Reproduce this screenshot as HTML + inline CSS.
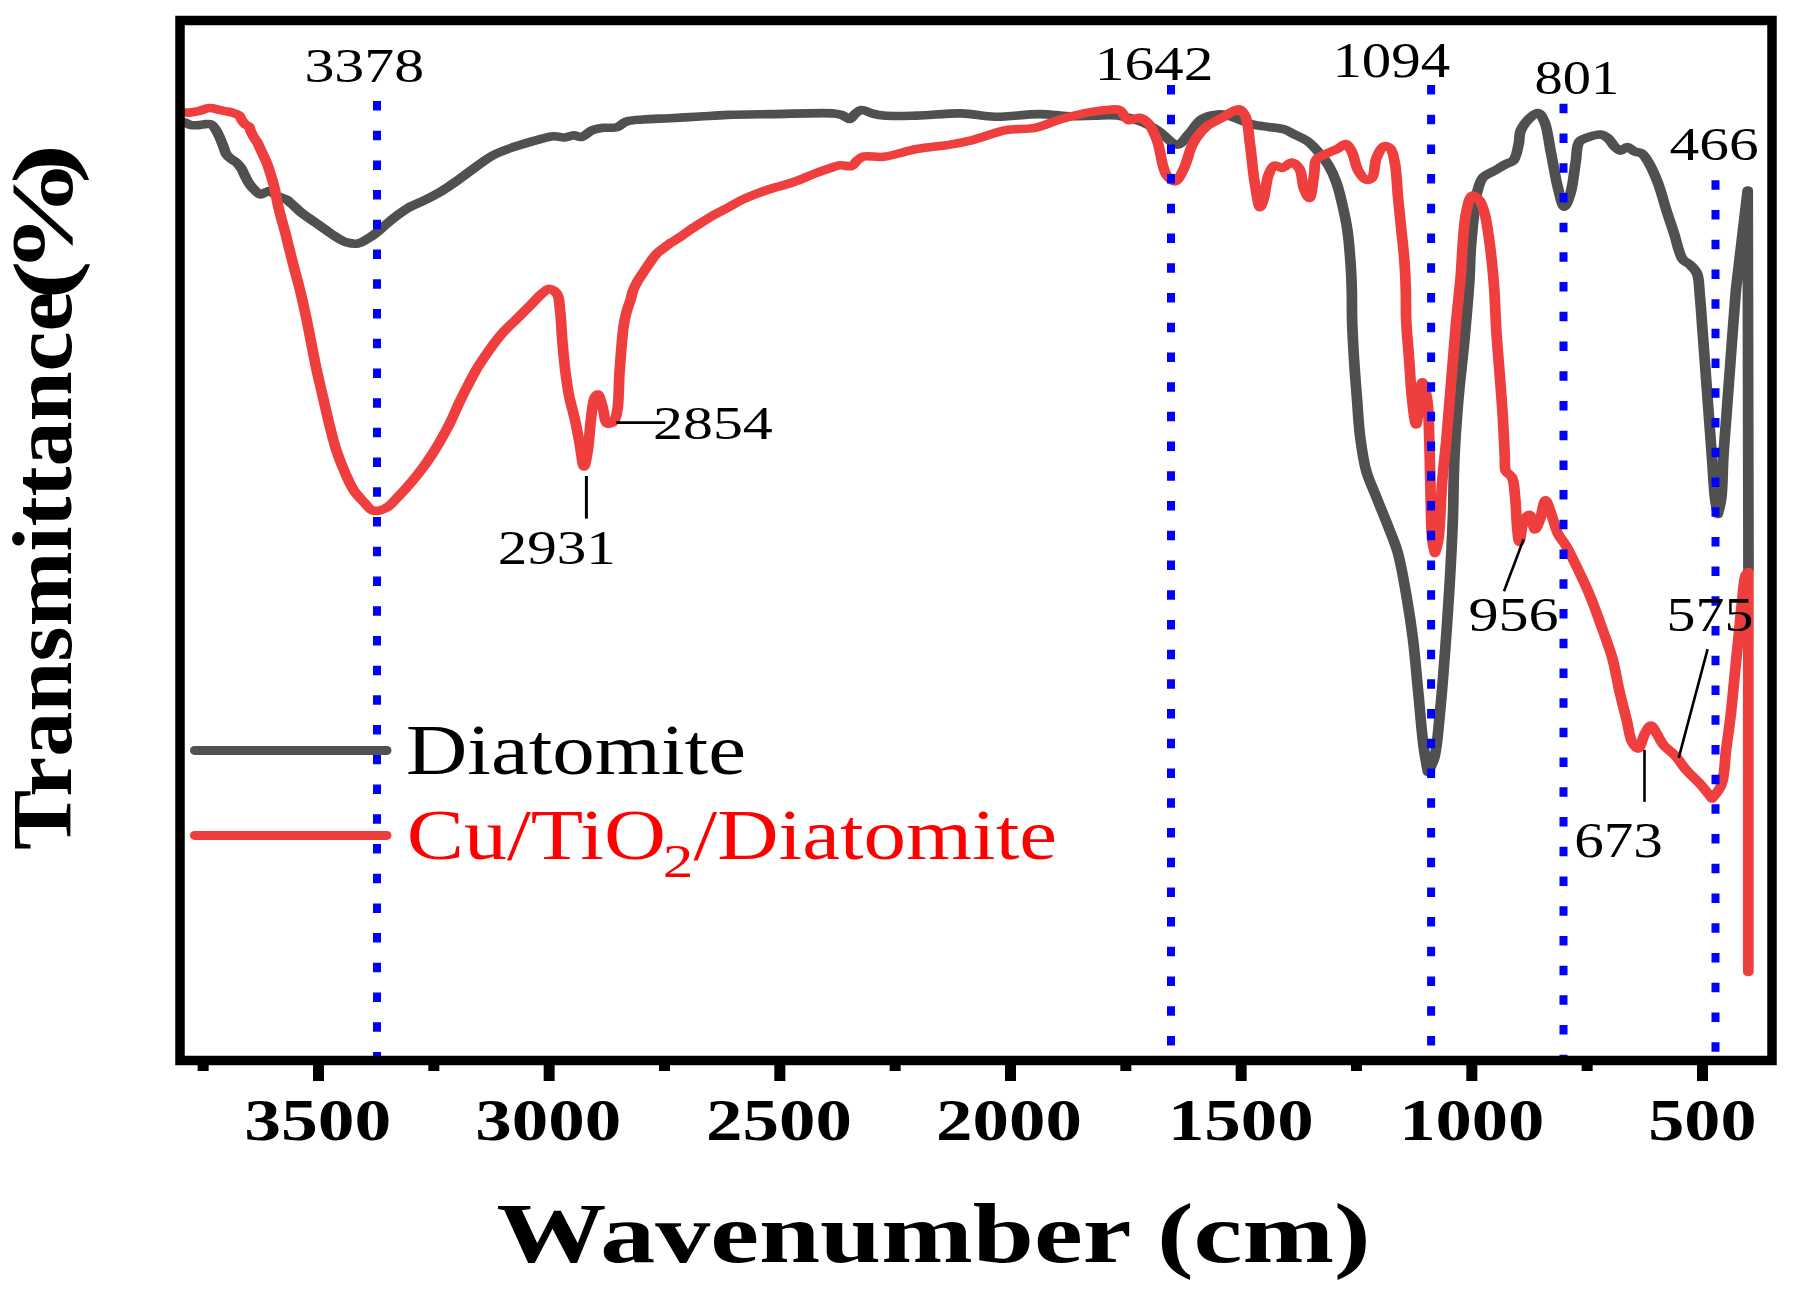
<!DOCTYPE html>
<html><head><meta charset="utf-8"><title>FTIR spectra</title>
<style>html,body{margin:0;padding:0;background:#fff;overflow:hidden}svg{display:block}</style>
</head><body>
<svg width="1796" height="1297" viewBox="0 0 1796 1297"><rect x="0" y="0" width="1796" height="1297" fill="#fff"/>
<g transform="scale(1.25,1)" fill="none" stroke-width="8.6" stroke-linejoin="round" stroke-linecap="round">
<path d="M147.68,122.30 C149.41,123.23 151.03,124.63 152.88,125.10 C154.73,125.57 156.83,125.26 158.80,125.10 C160.78,124.93 162.88,124.15 164.72,124.10 C166.31,124.06 167.93,123.82 169.20,124.60 C170.75,125.55 171.81,128.14 172.88,130.20 C174.05,132.44 174.90,134.98 175.84,137.60 C176.88,140.48 177.89,143.90 178.80,146.80 C179.61,149.40 179.94,152.11 181.04,154.20 C182.00,156.02 183.36,157.41 184.72,158.80 C186.06,160.17 187.80,161.03 189.12,162.50 C190.55,164.09 191.79,166.04 192.88,168.10 C194.06,170.34 194.77,172.97 195.84,175.50 C196.98,178.20 198.11,181.26 199.52,183.80 C200.83,186.16 202.34,188.44 203.92,190.30 C205.32,191.94 206.84,194.30 208.40,194.50 C209.81,194.68 211.45,192.67 212.80,192.10 C213.86,191.66 214.67,190.99 215.76,191.20 C217.47,191.53 219.52,194.52 221.68,195.90 C223.95,197.34 227.15,198.17 229.12,199.60 C230.70,200.74 231.38,201.81 232.88,203.40 C235.25,205.92 238.77,210.36 241.84,213.40 C244.72,216.26 247.76,218.60 250.72,221.20 C253.68,223.80 256.63,226.40 259.60,229.00 C262.58,231.60 265.49,234.52 268.56,236.80 C271.45,238.95 274.35,241.30 277.44,242.40 C280.29,243.42 283.46,244.13 286.32,243.50 C289.43,242.81 292.63,239.87 295.28,237.90 C297.63,236.15 299.43,234.46 301.52,232.40 C303.88,230.08 306.10,227.26 308.64,224.60 C311.41,221.70 314.50,218.52 317.52,215.70 C320.45,212.96 323.07,210.35 326.48,207.90 C330.38,205.10 335.43,202.85 339.84,200.10 C344.34,197.29 348.83,194.47 353.20,191.20 C357.75,187.79 362.53,183.54 366.56,180.00 C370.02,176.96 372.33,174.59 376.00,171.30 C380.98,166.83 387.62,159.88 393.84,155.70 C399.53,151.88 405.60,149.42 411.60,146.80 C417.47,144.23 423.89,141.95 429.44,140.10 C434.18,138.52 438.76,136.48 442.80,136.20 C446.06,135.97 448.97,137.74 451.76,137.50 C454.30,137.29 456.58,135.24 458.88,135.20 C461.02,135.17 462.97,137.41 465.12,137.00 C467.95,136.46 470.87,131.64 474.00,130.10 C476.82,128.71 479.75,128.27 482.88,127.80 C486.26,127.29 490.54,128.44 493.60,127.30 C496.41,126.25 497.78,123.00 500.72,121.70 C504.32,120.11 509.06,120.06 514.08,119.50 C520.47,118.79 528.53,118.69 536.00,118.20 C543.82,117.69 552.19,117.06 560.00,116.50 C567.45,115.96 573.67,115.29 581.84,114.90 C592.26,114.40 604.57,114.33 617.44,114.10 C632.68,113.82 658.70,112.37 667.36,113.40 C670.47,113.77 671.59,114.12 673.60,115.00 C675.76,115.94 678.07,119.27 679.84,119.00 C681.50,118.74 682.48,115.51 684.00,114.00 C685.50,112.51 686.90,110.32 688.88,110.00 C691.32,109.60 694.83,112.46 697.84,113.40 C700.78,114.32 702.93,115.14 706.72,115.60 C713.20,116.39 723.90,115.89 733.44,115.60 C744.48,115.26 758.10,113.06 769.12,113.40 C778.68,113.69 786.28,116.46 795.84,116.70 C806.84,116.98 820.42,114.05 831.44,114.10 C840.99,114.14 850.15,116.13 858.16,116.30 C864.70,116.44 870.05,115.72 876.00,115.60 C881.95,115.48 887.97,114.70 893.84,115.60 C899.84,116.52 906.15,118.69 911.60,121.20 C916.77,123.59 921.11,126.53 925.84,130.10 C931.22,134.15 937.46,144.86 941.92,144.60 C945.44,144.40 947.81,138.32 950.80,134.50 C954.34,129.97 957.19,122.33 961.52,119.00 C965.15,116.21 970.20,114.93 974.00,114.50 C977.03,114.15 979.45,114.67 982.40,115.50 C986.00,116.52 990.29,119.18 993.84,120.80 C996.92,122.21 999.27,123.70 1002.48,124.70 C1006.18,125.86 1010.75,126.23 1014.88,127.00 C1018.99,127.77 1023.57,127.89 1027.20,129.30 C1030.47,130.57 1032.87,132.84 1035.84,134.70 C1039.02,136.69 1042.60,138.16 1045.68,140.90 C1049.26,144.09 1052.67,148.98 1055.60,153.20 C1058.40,157.23 1060.80,161.04 1062.96,165.60 C1065.38,170.70 1067.35,176.35 1069.12,182.50 C1071.15,189.56 1072.64,197.96 1074.08,205.70 C1075.51,213.39 1076.77,220.53 1077.76,228.80 C1078.90,238.31 1079.63,249.36 1080.24,259.60 C1080.85,269.76 1081.20,279.89 1081.44,290.00 C1081.68,300.06 1081.42,309.35 1081.68,320.10 C1081.98,332.51 1082.61,346.84 1083.28,360.20 C1083.95,373.57 1084.86,387.29 1085.68,400.30 C1086.46,412.65 1086.85,424.56 1088.08,436.40 C1089.28,447.95 1090.54,459.99 1092.88,470.50 C1094.96,479.84 1098.06,487.53 1100.88,496.50 C1103.92,506.18 1107.58,516.94 1110.56,526.60 C1113.31,535.51 1115.94,542.62 1118.16,552.40 C1120.99,564.88 1123.09,581.18 1125.12,595.60 C1127.14,609.98 1128.80,623.59 1130.32,638.80 C1132.02,655.76 1133.21,674.72 1134.64,692.70 C1136.07,710.69 1137.29,732.09 1138.88,746.70 C1139.97,756.73 1142.40,772.00 1142.40,772.00 C1142.40,772.00 1146.13,763.73 1147.52,757.50 C1149.86,747.04 1150.52,730.16 1151.84,714.30 C1153.46,694.92 1154.85,671.18 1156.16,649.60 C1157.47,628.01 1158.67,606.40 1159.68,584.80 C1160.69,563.20 1161.61,541.14 1162.24,520.00 C1162.84,499.75 1162.71,480.39 1163.44,460.50 C1164.17,440.49 1165.29,420.35 1166.64,400.30 C1167.99,380.25 1170.04,360.25 1171.52,340.20 C1173.00,320.15 1174.68,296.55 1175.52,280.00 C1176.11,268.41 1175.94,261.27 1176.56,250.40 C1177.32,237.04 1178.89,216.93 1180.08,205.80 C1180.79,199.12 1181.06,194.75 1182.24,189.80 C1183.31,185.32 1184.20,180.49 1186.56,177.30 C1188.67,174.45 1192.16,173.24 1195.12,171.10 C1198.31,168.79 1202.15,165.83 1205.04,163.90 C1207.19,162.47 1209.28,162.46 1210.80,160.40 C1213.25,157.08 1214.09,148.74 1215.04,143.50 C1215.85,139.05 1215.07,135.16 1216.48,131.00 C1218.10,126.22 1222.10,119.68 1225.04,116.70 C1226.90,114.82 1229.08,112.77 1230.72,113.20 C1232.75,113.73 1234.28,118.09 1235.68,122.10 C1238.12,129.06 1239.01,141.89 1240.72,152.40 C1242.58,163.79 1244.30,178.07 1246.40,188.00 C1247.94,195.27 1249.55,206.61 1251.36,206.70 C1252.92,206.78 1255.02,198.82 1256.40,193.30 C1258.48,185.01 1259.33,170.66 1260.64,161.30 C1261.66,153.97 1260.94,145.67 1263.52,141.70 C1265.20,139.11 1267.97,138.37 1270.64,137.20 C1273.60,135.90 1277.85,134.08 1280.64,134.50 C1282.89,134.84 1284.60,136.38 1286.32,138.10 C1288.48,140.25 1290.06,144.80 1292.00,147.00 C1293.42,148.61 1294.74,150.50 1296.32,150.60 C1298.05,150.71 1300.14,146.90 1302.00,147.00 C1303.93,147.10 1305.68,150.44 1307.68,151.50 C1309.49,152.46 1311.68,151.96 1313.36,153.30 C1315.68,155.15 1317.27,159.18 1319.12,163.10 C1321.62,168.40 1324.04,175.42 1326.24,182.60 C1328.86,191.16 1331.09,202.38 1333.36,211.20 C1335.33,218.83 1337.04,224.99 1339.04,232.50 C1341.28,240.92 1343.00,254.03 1346.16,259.30 C1347.83,262.09 1350.06,262.48 1351.84,264.60 C1353.92,267.08 1356.26,269.69 1357.60,273.50 C1359.52,278.94 1359.17,286.88 1359.84,295.00 C1360.71,305.58 1361.32,319.00 1362.08,331.60 C1362.89,345.05 1363.73,359.41 1364.56,373.30 C1365.39,387.18 1366.21,401.02 1367.04,414.90 C1367.87,428.79 1368.69,442.71 1369.52,456.60 C1370.35,470.48 1370.94,487.64 1372.00,498.20 C1372.66,504.73 1374.24,514.00 1374.24,514.00 C1374.24,514.00 1376.33,504.75 1377.04,498.20 C1378.18,487.65 1378.03,470.47 1378.72,456.60 C1379.41,442.71 1380.37,428.79 1381.20,414.90 C1382.03,401.02 1382.85,387.18 1383.68,373.30 C1384.51,359.41 1385.32,345.49 1386.16,331.60 C1387.00,317.72 1388.72,290.00 1388.72,290.00 C1388.72,290.00 1398.16,190.50 1398.16,190.50 C1398.16,190.50 1398.80,570.00 1398.80,570.00" stroke="#505050"/>
<path d="M147.68,112.50 C148.93,112.53 149.99,112.72 151.44,112.60 C153.49,112.43 156.26,111.89 158.80,111.20 C161.65,110.42 164.83,108.15 167.68,108.00 C170.25,107.86 172.90,109.24 175.12,109.80 C176.92,110.26 178.32,110.66 180.00,111.10 C181.78,111.56 183.71,111.83 185.52,112.50 C187.42,113.21 189.80,113.97 191.12,115.30 C192.31,116.51 192.55,118.42 193.36,119.90 C194.15,121.35 194.89,122.93 195.92,124.10 C196.88,125.20 198.48,125.63 199.28,126.80 C200.13,128.05 200.15,129.89 200.72,131.50 C201.35,133.28 202.11,135.18 202.96,137.00 C203.84,138.88 205.06,140.67 205.92,142.60 C206.79,144.54 207.39,146.53 208.16,148.60 C208.99,150.82 209.85,153.11 210.72,155.50 C211.66,158.07 212.69,160.59 213.60,163.50 C214.66,166.88 215.61,170.75 216.56,174.60 C217.58,178.73 218.64,182.99 219.52,187.50 C220.48,192.41 221.19,198.39 222.00,203.00 C222.65,206.73 223.13,209.23 223.92,213.10 C225.00,218.37 226.70,225.50 228.00,231.70 C229.29,237.87 230.44,244.03 231.68,250.20 C232.92,256.37 234.13,262.43 235.44,268.70 C236.79,275.19 238.26,281.31 239.68,288.50 C241.37,297.04 243.22,307.35 244.80,316.60 C246.33,325.58 247.63,334.33 249.04,343.20 C250.45,352.07 251.75,360.94 253.28,369.80 C254.81,378.68 256.59,387.53 258.24,396.40 C259.89,405.27 261.43,414.14 263.20,423.00 C264.98,431.88 266.66,441.10 268.88,449.60 C270.97,457.59 273.49,465.47 276.00,472.60 C278.24,478.96 280.23,485.14 283.04,490.40 C285.53,495.06 288.98,499.28 291.60,502.80 C293.63,505.54 295.11,508.67 297.28,509.90 C299.00,510.88 301.02,511.02 302.96,510.70 C305.24,510.33 307.71,509.03 310.00,507.20 C313.04,504.77 315.72,500.44 318.80,496.40 C322.53,491.51 326.92,485.40 330.64,479.80 C334.29,474.30 337.63,469.01 340.96,463.10 C344.55,456.73 348.13,449.63 351.36,442.80 C354.55,436.06 357.52,429.23 360.24,422.40 C362.92,415.67 365.08,408.69 367.60,402.10 C370.02,395.77 372.52,389.59 375.04,383.60 C377.45,377.87 379.72,372.41 382.40,366.90 C385.12,361.31 388.11,355.79 391.28,350.30 C394.52,344.69 397.93,338.89 401.68,333.60 C405.36,328.40 409.57,323.73 413.52,318.80 C417.47,313.87 421.70,308.58 425.36,304.00 C428.53,300.03 431.53,295.59 434.24,292.90 C436.09,291.06 437.64,288.78 439.44,288.80 C441.42,288.82 444.15,291.32 445.60,293.90 C447.72,297.68 447.41,304.38 448.08,310.90 C448.98,319.64 449.20,331.43 449.92,341.70 C450.64,352.00 451.40,362.89 452.40,372.60 C453.30,381.30 454.23,389.36 455.52,397.30 C456.74,404.76 458.52,411.57 459.84,418.90 C461.20,426.46 462.31,434.18 463.52,442.00 C464.76,450.04 465.96,466.48 467.20,466.50 C468.23,466.52 469.46,456.24 470.32,449.80 C471.48,441.10 471.77,428.27 472.80,418.90 C473.67,411.04 474.13,401.00 475.84,397.30 C476.55,395.77 477.55,394.33 478.32,394.50 C479.73,394.81 480.85,402.13 482.00,406.50 C483.36,411.65 483.37,422.11 485.76,423.50 C487.05,424.25 489.39,423.28 490.64,422.00 C492.50,420.11 492.97,415.97 493.76,411.20 C495.23,402.36 494.97,384.02 495.60,372.60 C496.10,363.48 496.56,355.86 497.12,348.00 C497.64,340.75 498.03,333.52 498.80,327.10 C499.47,321.56 500.27,316.46 501.28,311.70 C502.17,307.51 503.51,303.68 504.40,300.00 C505.18,296.76 505.50,293.83 506.40,290.80 C507.32,287.70 508.56,284.64 509.92,281.60 C511.32,278.47 513.09,275.38 514.72,272.30 C516.35,269.22 517.95,266.16 519.68,263.10 C521.44,259.99 523.18,256.40 525.20,253.80 C526.93,251.57 528.88,250.05 530.80,248.20 C532.75,246.32 534.66,244.39 536.80,242.60 C539.04,240.72 541.49,239.25 544.00,237.20 C546.95,234.78 550.15,231.53 553.28,228.90 C556.32,226.34 559.40,224.00 562.48,221.60 C565.56,219.20 568.62,216.71 571.76,214.50 C574.81,212.35 577.68,210.73 581.04,208.50 C585.10,205.80 589.55,202.25 594.40,199.40 C599.73,196.27 605.54,193.45 611.84,190.70 C618.93,187.61 627.88,185.10 634.96,182.00 C641.24,179.25 647.09,175.76 652.32,173.30 C656.55,171.31 660.38,169.61 663.92,168.20 C666.83,167.04 669.17,165.68 672.00,165.30 C674.95,164.90 678.90,167.02 681.28,166.00 C683.39,165.09 684.28,161.92 685.92,160.30 C687.39,158.84 688.37,157.35 690.56,156.60 C694.18,155.36 700.73,157.62 706.72,156.80 C714.58,155.73 724.47,151.04 733.44,149.00 C742.29,146.99 752.18,146.26 760.16,144.60 C766.74,143.23 771.52,142.12 778.00,140.10 C786.07,137.58 796.00,132.11 804.72,130.10 C812.60,128.28 820.48,129.76 827.92,127.90 C835.33,126.05 842.43,121.50 849.28,119.00 C855.44,116.75 861.14,114.91 867.12,113.40 C873.00,111.92 879.68,110.49 884.88,110.00 C888.88,109.62 892.68,108.49 895.60,110.00 C898.73,111.62 899.78,119.02 902.72,120.10 C905.26,121.03 908.93,117.24 911.60,117.80 C914.26,118.36 916.65,120.63 918.72,123.40 C921.73,127.43 923.71,134.24 925.84,141.20 C928.68,150.50 929.31,168.00 933.04,174.60 C935.03,178.13 937.99,181.65 940.16,181.30 C942.85,180.86 945.15,173.24 947.28,168.00 C950.06,161.19 951.15,150.70 954.40,143.50 C957.27,137.15 960.85,131.11 965.04,126.70 C968.73,122.82 973.79,120.57 977.60,117.80 C980.83,115.46 983.86,112.64 986.48,111.20 C988.30,110.20 989.95,108.85 991.44,109.30 C993.32,109.87 995.03,112.91 996.32,116.20 C998.67,122.19 998.85,133.97 1000.00,144.00 C1001.35,155.78 1002.21,171.11 1003.76,182.50 C1005.01,191.67 1006.52,207.09 1008.08,207.20 C1009.05,207.27 1010.19,201.81 1011.12,198.00 C1012.57,192.07 1012.91,180.66 1014.88,174.80 C1016.19,170.90 1017.60,166.42 1019.76,165.60 C1021.48,164.95 1023.85,168.18 1025.92,167.90 C1028.37,167.57 1031.07,162.32 1033.36,162.50 C1035.59,162.68 1037.96,165.72 1039.52,168.70 C1041.90,173.24 1041.50,183.38 1043.20,188.70 C1044.40,192.48 1046.32,198.17 1047.52,198.00 C1049.33,197.75 1050.30,181.75 1051.28,174.80 C1052.07,169.15 1051.04,162.96 1053.12,159.40 C1054.71,156.67 1057.78,155.71 1060.48,154.00 C1063.48,152.09 1067.54,150.43 1070.40,148.60 C1072.76,147.09 1074.77,143.67 1076.56,144.00 C1078.50,144.36 1080.01,148.44 1081.44,151.70 C1083.51,156.42 1084.16,165.23 1086.40,170.20 C1088.11,174.00 1090.29,178.70 1092.56,179.50 C1094.11,180.04 1096.21,179.39 1097.52,177.90 C1100.10,174.96 1099.24,163.54 1101.20,157.90 C1102.78,153.37 1105.00,147.09 1107.36,146.30 C1108.88,145.79 1111.01,147.00 1112.32,148.60 C1114.55,151.32 1115.04,157.82 1116.00,164.00 C1117.41,173.07 1117.63,186.95 1118.48,198.00 C1119.29,208.52 1120.13,218.53 1120.96,228.80 C1121.79,239.07 1122.83,249.36 1123.44,259.60 C1124.05,269.76 1124.39,279.89 1124.64,290.00 C1124.89,300.06 1124.58,309.35 1124.96,320.10 C1125.40,332.51 1126.56,346.83 1127.36,360.20 C1128.16,373.57 1128.64,388.64 1129.76,400.30 C1130.63,409.37 1131.82,424.41 1132.96,424.40 C1134.46,424.39 1135.98,382.40 1137.84,382.30 C1139.07,382.24 1140.90,393.06 1141.84,400.30 C1143.23,410.98 1143.04,427.03 1143.44,440.40 C1143.84,453.76 1143.90,465.82 1144.24,480.50 C1144.66,498.38 1144.63,527.39 1145.84,540.00 C1146.41,545.93 1148.00,553.00 1148.00,553.00 C1148.00,553.00 1149.88,545.94 1150.64,540.00 C1152.25,527.40 1152.65,498.38 1153.84,480.50 C1154.82,465.81 1155.96,455.12 1157.04,440.40 C1158.36,422.37 1159.71,400.26 1161.04,380.20 C1162.37,360.16 1163.70,338.11 1165.04,320.10 C1166.13,305.38 1167.20,295.06 1168.32,280.00 C1169.77,260.61 1170.20,228.47 1172.80,213.40 C1174.17,205.45 1175.34,196.26 1177.84,195.50 C1179.45,195.01 1182.12,198.10 1183.68,200.50 C1185.84,203.83 1186.73,209.17 1187.92,214.70 C1189.53,222.17 1190.51,232.56 1191.52,241.50 C1192.53,250.40 1193.33,259.75 1194.00,268.20 C1194.61,275.83 1194.99,281.57 1195.44,290.00 C1196.06,301.64 1196.41,317.73 1197.12,331.60 C1197.83,345.50 1198.84,359.41 1199.68,373.30 C1200.52,387.17 1201.47,401.02 1202.16,414.90 C1202.85,428.79 1203.35,446.29 1203.84,456.60 C1204.13,462.68 1203.25,467.42 1204.64,471.10 C1205.67,473.84 1208.38,474.46 1209.60,477.40 C1211.58,482.15 1211.48,490.55 1212.16,498.20 C1212.98,507.54 1213.11,521.35 1213.84,529.40 C1214.30,534.51 1214.70,541.88 1215.44,541.90 C1216.45,541.93 1217.29,523.37 1219.60,519.00 C1220.76,516.81 1222.57,514.59 1223.76,514.90 C1225.68,515.40 1226.48,529.33 1228.00,529.40 C1229.31,529.46 1230.91,523.03 1232.16,519.00 C1233.79,513.73 1234.69,500.39 1236.32,500.30 C1237.78,500.22 1239.70,509.71 1241.28,514.90 C1243.05,520.72 1244.15,528.10 1246.32,533.60 C1248.18,538.30 1250.79,541.46 1252.96,546.10 C1255.55,551.63 1257.85,557.73 1260.56,564.70 C1263.98,573.51 1268.14,584.19 1271.68,594.80 C1275.56,606.44 1279.47,620.34 1282.72,631.80 C1285.52,641.68 1288.05,649.85 1290.16,659.50 C1292.42,669.83 1293.75,681.53 1295.68,691.90 C1297.47,701.54 1299.50,710.86 1301.28,719.70 C1302.90,727.76 1303.60,737.83 1305.92,742.80 C1307.22,745.59 1309.15,748.84 1310.56,748.60 C1312.63,748.25 1313.97,737.76 1315.92,733.60 C1317.42,730.40 1319.14,725.49 1320.72,725.50 C1322.29,725.51 1323.80,730.63 1325.36,733.60 C1327.19,737.09 1328.49,741.60 1330.88,745.20 C1333.37,748.95 1337.24,751.67 1340.16,755.60 C1343.44,760.02 1345.98,765.80 1349.36,770.60 C1352.75,775.43 1357.06,779.77 1360.48,784.50 C1363.79,789.08 1369.60,798.50 1369.60,798.50 C1369.60,798.50 1375.35,790.44 1377.20,784.50 C1379.93,775.71 1379.65,761.37 1380.88,749.80 C1382.11,738.23 1383.41,727.51 1384.56,715.10 C1385.89,700.79 1387.09,683.12 1388.24,668.80 C1389.23,656.40 1390.11,645.67 1391.04,634.10 C1391.97,622.53 1392.83,609.94 1393.84,599.40 C1394.69,590.55 1395.01,579.14 1396.56,575.00 C1397.16,573.41 1398.64,572.00 1398.64,572.00 C1398.64,572.00 1398.64,972.00 1398.64,972.00" stroke="#ef3e3e"/>
</g>
<line x1="377.0" y1="100.95" x2="377.0" y2="1056" stroke="#0000ff" stroke-width="8" stroke-dasharray="9.5 20.22"/>
<line x1="1171.0" y1="84.95" x2="1171.0" y2="1056" stroke="#0000ff" stroke-width="8" stroke-dasharray="9.5 20.22"/>
<line x1="1431.1" y1="84.95" x2="1431.1" y2="1056" stroke="#0000ff" stroke-width="8" stroke-dasharray="9.5 20.22"/>
<line x1="1563.5" y1="103.75" x2="1563.5" y2="1056" stroke="#0000ff" stroke-width="8" stroke-dasharray="9.5 20.22"/>
<line x1="1715.5" y1="180.25" x2="1715.5" y2="1056" stroke="#0000ff" stroke-width="8" stroke-dasharray="9.5 20.22"/>
<line x1="616.3" y1="422.6" x2="665.3" y2="422.6" stroke="#000" stroke-width="2.6"/>
<line x1="586.4" y1="476" x2="586.4" y2="518.6" stroke="#000" stroke-width="3"/>
<line x1="1523.6" y1="539.3" x2="1504" y2="591.3" stroke="#000" stroke-width="2.6"/>
<line x1="1644.5" y1="749.8" x2="1644.5" y2="801.8" stroke="#000" stroke-width="2.6"/>
<line x1="1707.6" y1="649.1" x2="1678.7" y2="757.9" stroke="#000" stroke-width="2.6"/>
<line x1="194.5" y1="750.4" x2="387" y2="750.4" stroke="#505050" stroke-width="9" stroke-linecap="round"/>
<line x1="194.5" y1="835.4" x2="387" y2="835.4" stroke="#ef3e3e" stroke-width="9" stroke-linecap="round"/>
<g font-family="'Liberation Serif', serif">
<text transform="translate(304.42,81.90) scale(1.2263,1)" font-size="48.81" font-weight="normal" fill="#000">3378</text>
<text transform="translate(1094.72,79.51) scale(1.2145,1)" font-size="48.92" font-weight="normal" fill="#000">1642</text>
<text transform="translate(1332.41,76.94) scale(1.1852,1)" font-size="49.71" font-weight="normal" fill="#000">1094</text>
<text transform="translate(1534.53,94.30) scale(1.1544,1)" font-size="48.91" font-weight="normal" fill="#000">801</text>
<text transform="translate(1669.59,160.28) scale(1.2638,1)" font-size="47.04" font-weight="normal" fill="#000">466</text>
<text transform="translate(653.02,439.31) scale(1.2663,1)" font-size="47.29" font-weight="normal" fill="#000">2854</text>
<text transform="translate(497.66,564.00) scale(1.2296,1)" font-size="48.00" font-weight="normal" fill="#000">2931</text>
<text transform="translate(1468.40,630.60) scale(1.2299,1)" font-size="48.91" font-weight="normal" fill="#000">956</text>
<text transform="translate(1666.52,631.00) scale(1.2059,1)" font-size="48.00" font-weight="normal" fill="#000">575</text>
<text transform="translate(1574.25,856.60) scale(1.1846,1)" font-size="49.83" font-weight="normal" fill="#000">673</text>
<text transform="translate(405.98,773.51) scale(1.1739,1)" font-size="72.43" font-weight="normal" fill="#000">Diatomite</text>
<text transform="translate(406.75,858.85) scale(1.1994,1)" font-size="71.55" font-weight="normal" fill="#ff0000">Cu/TiO</text>
<text transform="translate(662.81,876.80) scale(1.3022,1)" font-size="46.90" font-weight="normal" fill="#ff0000">2</text>
<text transform="translate(693.60,859.42) scale(1.1688,1)" font-size="72.71" font-weight="normal" fill="#ff0000">/Diatomite</text>
<text transform="translate(244.23,1140.30) scale(1.2481,1)" font-size="58.92" font-weight="bold" fill="#000">3500</text>
<text transform="translate(475.25,1140.30) scale(1.2393,1)" font-size="58.92" font-weight="bold" fill="#000">3000</text>
<text transform="translate(706.06,1140.30) scale(1.2375,1)" font-size="58.92" font-weight="bold" fill="#000">2500</text>
<text transform="translate(936.06,1140.30) scale(1.2375,1)" font-size="58.92" font-weight="bold" fill="#000">2000</text>
<text transform="translate(1167.92,1140.30) scale(1.2370,1)" font-size="58.92" font-weight="bold" fill="#000">1500</text>
<text transform="translate(1399.13,1140.30) scale(1.2334,1)" font-size="58.92" font-weight="bold" fill="#000">1000</text>
<text transform="translate(1648.28,1139.50) scale(1.2123,1)" font-size="59.50" font-weight="bold" fill="#000">500</text>
<text transform="translate(496.38,1262.28) scale(1.2946,1)" font-size="84.92" font-weight="bold" fill="#000">Wavenumber (cm)</text>
<text transform="translate(71.29,850.03) rotate(-90) scale(1.0729,1)" font-size="83.94" font-weight="bold" fill="#000">Transmittance</text>
<text transform="translate(71.93,299.63) rotate(-90) scale(1.4029,1)" font-size="84.33" font-weight="bold" fill="#000">(</text>
<text transform="translate(71.47,273.60) rotate(-90) scale(1.3203,1)" font-size="87.22" font-weight="bold" fill="#000">%</text>
<text transform="translate(71.46,183.92) rotate(-90) scale(1.4347,1)" font-size="84.28" font-weight="bold" fill="#000">)</text>
</g>
<rect x="180" y="20.5" width="1592" height="1040" fill="none" stroke="#000" stroke-width="9.5"/>
<rect x="197.67" y="1060" width="11" height="11" fill="#000"/>
<rect x="313.00" y="1060" width="11" height="21" fill="#000"/>
<rect x="428.33" y="1060" width="11" height="11" fill="#000"/>
<rect x="543.66" y="1060" width="11" height="21" fill="#000"/>
<rect x="659.00" y="1060" width="11" height="11" fill="#000"/>
<rect x="774.33" y="1060" width="11" height="21" fill="#000"/>
<rect x="889.66" y="1060" width="11" height="11" fill="#000"/>
<rect x="1005.00" y="1060" width="11" height="21" fill="#000"/>
<rect x="1120.33" y="1060" width="11" height="11" fill="#000"/>
<rect x="1235.66" y="1060" width="11" height="21" fill="#000"/>
<rect x="1350.99" y="1060" width="11" height="11" fill="#000"/>
<rect x="1466.33" y="1060" width="11" height="21" fill="#000"/>
<rect x="1581.66" y="1060" width="11" height="11" fill="#000"/>
<rect x="1696.99" y="1060" width="11" height="21" fill="#000"/></svg>
</body></html>
